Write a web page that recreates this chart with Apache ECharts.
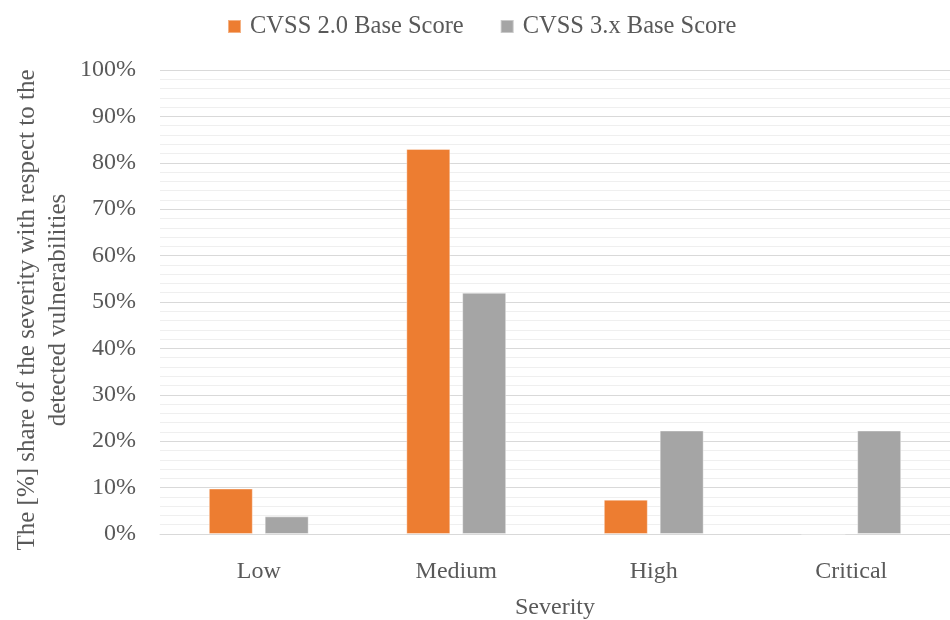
<!DOCTYPE html>
<html>
<head>
<meta charset="utf-8">
<script src="https://cdn.jsdelivr.net/npm/echarts@6/dist/echarts.min.js"></script>
<style>html,body{margin:0;padding:0;background:#fff;overflow:hidden}#c{width:950px;height:620px}</style>
</head>
<body>
<div id="c"></div>
<script>
const categories = ['Low', 'Medium', 'High', 'Critical'];
const cvss2 = [9.8, 83, 7.4, 0];
const cvss3 = [3.8, 52, 22.3, 22.3];
const seriesNames = ['CVSS 2.0 Base Score', 'CVSS 3.x Base Score'];
const FONT = 'Liberation Serif';
const TXT = '#595959';

const chart = echarts.init(document.getElementById('c'), null, { width: 950, height: 620 });
chart.setOption({
  animation: false,
  textStyle: { fontFamily: FONT, color: TXT },
  legend: {
    top: 9, left: 222,
    itemWidth: 13, itemHeight: 13, itemGap: 36,
    icon: 'rect',
    textStyle: { fontFamily: FONT, fontSize: 24.5, color: TXT, padding: [0, 0, 0, 4] },
    data: seriesNames
  },
  grid: { left: 160, right: 0, top: 70, height: 464, containLabel: false, outerBoundsMode: 'none' },
  xAxis: {
    type: 'category', data: categories,
    axisTick: { show: false },
    axisLine: { lineStyle: { color: '#d9d9d9', width: 1 } },
    axisLabel: { fontFamily: FONT, fontSize: 24, color: TXT, margin: 26 },
    name: 'Severity', nameLocation: 'middle', nameGap: 62, nameMoveOverlap: false,
    nameTextStyle: { fontFamily: FONT, fontSize: 24, color: TXT }
  },
  yAxis: {
    type: 'value', min: 0, max: 100, interval: 10,
    axisLine: { show: false }, axisTick: { show: false },
    axisLabel: { fontFamily: FONT, fontSize: 24, color: TXT, margin: 24, padding: [5, 0, 0, 0], formatter: '{value}%' },
    splitLine: { lineStyle: { color: '#d9d9d9', width: 1 } },
    minorTick: { show: false, splitNumber: 5 },
    minorSplitLine: { show: true, lineStyle: { color: '#efefef', width: 1 } },
    name: 'The [%] share of the severity with respect to the\ndetected vulnerabilities',
    nameLocation: 'middle', nameGap: 86, nameMoveOverlap: false,
    nameTextStyle: { fontFamily: FONT, fontSize: 25, color: TXT, lineHeight: 31, padding: [0, 16, 0, 0] }
  },
  series: [
    { name: seriesNames[0], type: 'bar', data: cvss2, barWidth: 44, barGap: '27%',
      itemStyle: { color: '#ED7D31', borderColor: 'rgba(255,255,255,0.4)', borderWidth: 1 } },
    { name: seriesNames[1], type: 'bar', data: cvss3, barWidth: 44, barGap: '27%',
      itemStyle: { color: '#A5A5A5', borderColor: 'rgba(255,255,255,0.4)', borderWidth: 1 } }
  ]
});
</script>
</body>
</html>
